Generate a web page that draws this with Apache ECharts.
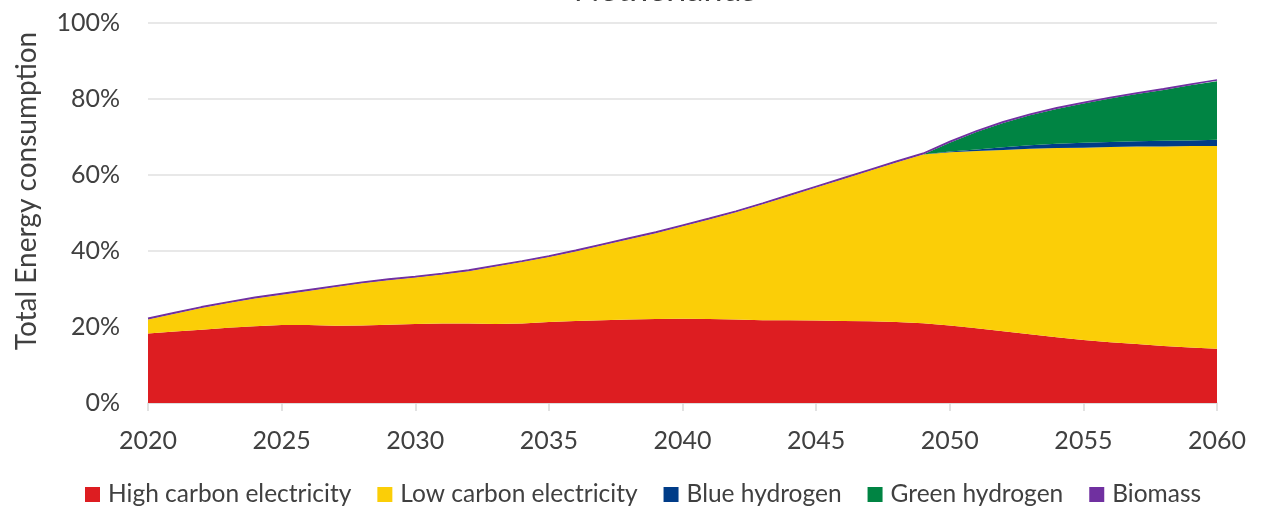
<!DOCTYPE html>
<html>
<head>
<meta charset="utf-8">
<script src="https://cdn.jsdelivr.net/npm/echarts@6/dist/echarts.min.js"></script>
<style>
  html, body { margin: 0; padding: 0; background: #fff; }
  #chart { width: 1261px; height: 508px; }
</style>
</head>
<body>
<div id="chart"></div>
<script>
// Netherlands: share of total energy consumption by carrier, 2020-2060 (%)
const years = [];
for (let y = 2020; y <= 2060; y++) years.push(String(y));

const highCarbon = [
  18.3, 18.8, 19.3, 19.8, 20.2, 20.5, 20.5, 20.3, 20.4, 20.6,
  20.8, 20.9, 20.9, 20.8, 20.9, 21.3, 21.6, 21.8, 22.0, 22.1,
  22.2, 22.1, 22.0, 21.8, 21.8, 21.7, 21.6, 21.5, 21.3, 21.0,
  20.4, 19.7, 18.9, 18.1, 17.3, 16.6, 16.0, 15.5, 15.0, 14.6, 14.3
];
const lowCarbon = [
  3.7, 4.7, 5.7, 6.5, 7.3, 8.0, 9.0, 10.2, 11.1, 11.7,
  12.2, 12.9, 13.8, 15.1, 16.2, 17.1, 18.3, 19.7, 21.1, 22.6,
  24.3, 26.2, 28.2, 30.5, 32.7, 35.0, 37.3, 39.6, 42.0, 44.4,
  45.6, 46.6, 47.7, 48.8, 49.8, 50.6, 51.4, 52.0, 52.5, 53.0, 53.3
];
const blueHydrogen = [
  0, 0, 0, 0, 0, 0, 0, 0, 0, 0,
  0, 0, 0, 0, 0, 0, 0, 0, 0, 0,
  0, 0, 0, 0, 0, 0, 0, 0, 0, 0,
  0.2, 0.4, 0.7, 0.9, 1.1, 1.3, 1.3, 1.4, 1.5, 1.5, 1.7
];
const greenHydrogen = [
  0, 0, 0, 0, 0, 0, 0, 0, 0, 0,
  0, 0, 0, 0, 0, 0, 0, 0, 0, 0,
  0, 0, 0, 0, 0, 0, 0, 0, 0, 0,
  2.3, 4.6, 6.4, 7.9, 9.2, 10.3, 11.4, 12.4, 13.4, 14.5, 15.4
];
const biomass = [
  0.3, 0.3, 0.3, 0.3, 0.3, 0.3, 0.3, 0.3, 0.3, 0.3,
  0.3, 0.3, 0.3, 0.3, 0.3, 0.3, 0.3, 0.3, 0.3, 0.3,
  0.3, 0.3, 0.3, 0.3, 0.3, 0.3, 0.3, 0.3, 0.3, 0.3,
  0.3, 0.3, 0.3, 0.3, 0.3, 0.3, 0.3, 0.3, 0.3, 0.3, 0.3
];

const FONT = 'Lato';
const TEXT = '#404040';

function areaSeries(name, data, color, lineWidth) {
  return {
    name: name,
    type: 'line',
    stack: 'total',
    data: data,
    showSymbol: false,
    symbol: 'none',
    smooth: false,
    itemStyle: { color: color },
    lineStyle: { width: lineWidth, color: color },
    areaStyle: { color: color, opacity: 1 },
    emphasis: { disabled: true }
  };
}

const chart = echarts.init(document.getElementById('chart'), null, { renderer: 'canvas' });
chart.setOption({
  animation: false,
  backgroundColor: '#ffffff',
  textStyle: { fontFamily: FONT, color: TEXT },
  grid: { left: 148, right: 44, top: 23, bottom: 105, containLabel: false },
  graphic: [
    {
      type: 'text',
      x: 665,
      y: 7,
      style: {
        text: 'Netherlands',
        font: '34px ' + FONT,
        fill: TEXT,
        align: 'center',
        verticalAlign: 'bottom'
      }
    },
    {
      type: 'text',
      x: 27,
      y: 191,
      rotation: Math.PI / 2,
      style: {
        text: 'Total Energy consumption',
        font: '28px ' + FONT,
        fill: TEXT,
        align: 'center',
        verticalAlign: 'middle'
      }
    }
  ],
  legend: {
    top: 477,
    left: 80,
    icon: 'rect',
    itemWidth: 15,
    itemHeight: 15,
    itemGap: 26,
    textStyle: { fontFamily: FONT, fontSize: 24.5, color: TEXT, padding: [0, 0, 0, 3] },
    data: ['High carbon electricity', 'Low carbon electricity', 'Blue hydrogen', 'Green hydrogen', 'Biomass']
  },
  xAxis: {
    type: 'category',
    data: years,
    boundaryGap: false,
    axisLine: { show: true, lineStyle: { color: '#D9D9D9', width: 1.5 } },
    axisTick: { show: true, interval: 4, length: 8, lineStyle: { color: '#D9D9D9', width: 1.5 } },
    axisLabel: { interval: 4, margin: 25, fontFamily: FONT, fontSize: 25, color: TEXT },
    splitLine: { show: false }
  },
  yAxis: {
    type: 'value',
    min: 0,
    max: 100,
    interval: 20,
    axisLine: { show: false },
    axisTick: { show: false },
    axisLabel: { margin: 28, fontFamily: FONT, fontSize: 25, color: TEXT, formatter: '{value}%' },
    splitLine: { show: true, lineStyle: { color: '#E0E0E0', width: 1.5 } }
  },
  series: [
    areaSeries('High carbon electricity', highCarbon, '#DD1D21', 0),
    areaSeries('Low carbon electricity', lowCarbon, '#FBCE07', 0),
    areaSeries('Blue hydrogen', blueHydrogen, '#003C88', 0),
    areaSeries('Green hydrogen', greenHydrogen, '#008443', 0),
    areaSeries('Biomass', biomass, '#7030A0', 1.5)
  ]
});
</script>
</body>
</html>
